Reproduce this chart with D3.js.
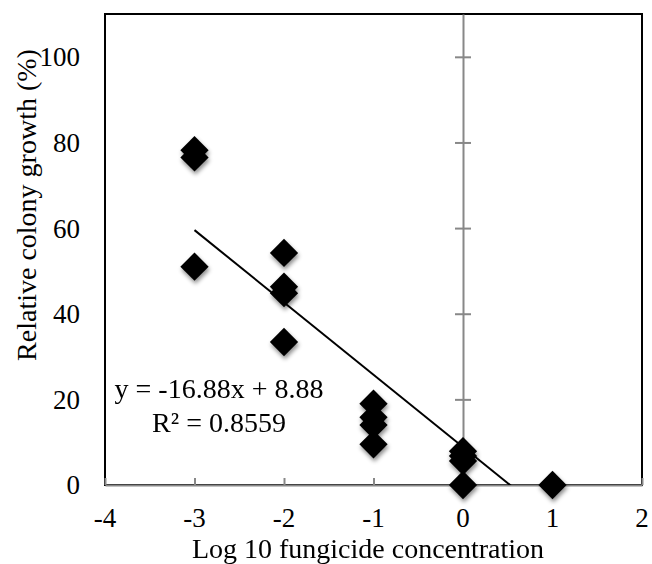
<!DOCTYPE html>
<html>
<head>
<meta charset="utf-8">
<script src="https://cdn.jsdelivr.net/npm/d3@7"></script>
<style>
  body { margin: 0; background: #fff; }
  svg text { font-family: "Times New Roman", "Liberation Serif", serif; fill: #000; }
</style>
</head>
<body>
<div id="chart"></div>
<script>
// log10 concentration for each replicate
let concentration = [-3, -3, -3, -2, -2, -2, -2, -1, -1, -1, -1, 0, 0, 0, 0, 1]
// relative colony growth (%)
let growth = [78.2, 76.5, 51.0, 54.2, 46.3, 44.8, 33.4, 19.0, 15.8, 14.0, 9.5, 7.9, 6.8, 5.6, 0, 0]

let xTicks = [-4, -3, -2, -1, 0, 1, 2]
let yTicks = [0, 20, 40, 60, 80, 100]

// trendline from the chart
let slope = -16.88
let intercept = 8.88
let rSquared = 0.8559

let width = 652
let height = 564
let margin = { top: 14, right: 10, bottom: 79, left: 105 }

let svg = d3.select('#chart')
    .append('svg')
    .attr('width', width)
    .attr('height', height)

let xScale = d3.scaleLinear()
    .domain([-4, 2])
    .range([margin.left, width - margin.right])

let yScale = d3.scaleLinear()
    .domain([0, 110])
    .range([height - margin.bottom, margin.top])

let defs = svg.append('defs')
let shadow = defs.append('filter')
    .attr('id', 'shadow')
    .attr('x', '-50%').attr('y', '-50%')
    .attr('width', '200%').attr('height', '200%')
shadow.append('feDropShadow')
    .attr('dx', 1).attr('dy', 3)
    .attr('stdDeviation', 2)
    .attr('flood-color', '#000')
    .attr('flood-opacity', 0.45)

defs.append('clipPath')
    .attr('id', 'plot-clip')
    .append('rect')
    .attr('x', xScale(-4))
    .attr('y', yScale(110))
    .attr('width', xScale(2) - xScale(-4))
    .attr('height', yScale(0) - yScale(110))

// plot area border
svg.append('rect')
    .attr('x', xScale(-4))
    .attr('y', yScale(110))
    .attr('width', xScale(2) - xScale(-4))
    .attr('height', yScale(0) - yScale(110))
    .attr('fill', 'none')
    .attr('stroke', '#000')
    .attr('stroke-width', 2)

// vertical axis at x = 0, cross ticks
let yAxis = d3.axisLeft(yScale)
    .tickValues(yTicks)
    .tickSizeInner(0)
    .tickSizeOuter(0)
    .tickFormat('')

let yAxisG = svg.append('g')
    .attr('transform', `translate(${xScale(0)},0)`)
    .call(yAxis)
yAxisG.select('.domain').attr('stroke', '#888').attr('stroke-width', 2)
yAxisG.selectAll('.tick line')
    .attr('x1', -8).attr('x2', 8)
    .attr('stroke', '#888').attr('stroke-width', 2)

// horizontal axis at y = 0
let xAxis = d3.axisTop(xScale)
    .tickValues(xTicks)
    .tickSizeInner(7)
    .tickSizeOuter(0)
    .tickFormat('')

let xAxisG = svg.append('g')
    .attr('transform', `translate(0,${yScale(0)})`)
    .call(xAxis)
xAxisG.select('.domain').attr('stroke', '#888').attr('stroke-width', 2)
xAxisG.selectAll('.tick line').attr('stroke', '#888').attr('stroke-width', 2)

// tick labels sit at the outside of the plot area
svg.append('g')
    .selectAll('text')
    .data(yTicks)
    .join('text')
    .attr('x', 80)
    .attr('y', d => yScale(d))
    .attr('dy', '0.35em')
    .attr('text-anchor', 'end')
    .attr('font-size', 27)
    .text(d => d)

svg.append('g')
    .selectAll('text')
    .data(xTicks)
    .join('text')
    .attr('x', d => xScale(d))
    .attr('y', 527)
    .attr('text-anchor', 'middle')
    .attr('font-size', 27)
    .text(d => d)

// trendline
let xLine = d3.extent(concentration)
svg.append('line')
    .attr('clip-path', 'url(#plot-clip)')
    .attr('x1', xScale(xLine[0]))
    .attr('y1', yScale(slope * xLine[0] + intercept))
    .attr('x2', xScale(xLine[1]))
    .attr('y2', yScale(slope * xLine[1] + intercept))
    .attr('stroke', '#000')
    .attr('stroke-width', 2)

// points
let diamond = d3.symbol().type(d3.symbolSquare).size(20 * 20)
svg.append('g')
    .attr('filter', 'url(#shadow)')
    .selectAll('path')
    .data(concentration.map((c, i) => ({ x: c, y: growth[i] })))
    .join('path')
    .attr('d', diamond)
    .attr('transform', d => `translate(${xScale(d.x)},${yScale(d.y)}) rotate(45)`)
    .attr('fill', '#000')

// equation
let eq = svg.append('text')
    .attr('text-anchor', 'middle')
    .attr('font-size', 28)
eq.append('tspan')
    .attr('x', 219).attr('y', 398)
    .text(`y = ${slope}x + ${intercept}`)
eq.append('tspan')
    .attr('x', 219).attr('y', 432)
    .text(`R² = ${rSquared}`)

// axis titles
svg.append('text')
    .attr('x', 368)
    .attr('y', 558)
    .attr('text-anchor', 'middle')
    .attr('font-size', 28)
    .text('Log 10 fungicide concentration')

svg.append('text')
    .attr('transform', 'translate(36,205) rotate(-90)')
    .attr('text-anchor', 'middle')
    .attr('font-size', 28)
    .text('Relative colony growth (%)')
</script>
</body>
</html>
